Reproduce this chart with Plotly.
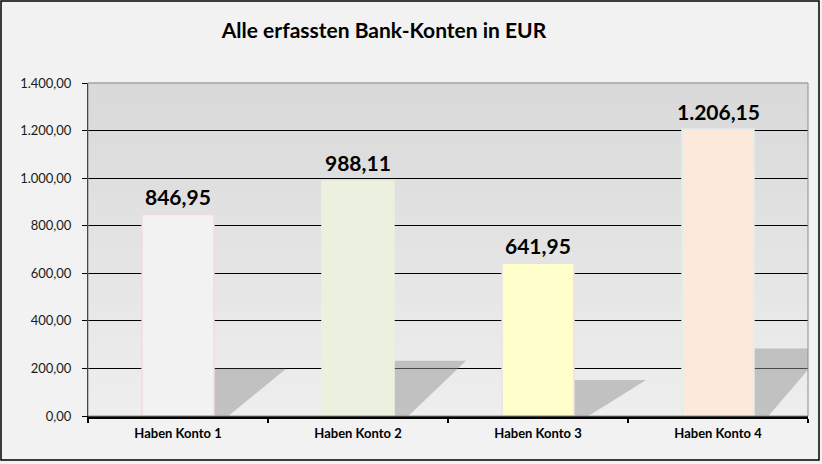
import plotly.graph_objects as go

categories = ["Haben Konto 1", "Haben Konto 2", "Haben Konto 3", "Haben Konto 4"]
values = [846.95, 988.11, 641.95, 1206.15]
bar_fill = ["#f2f2f2", "#ebf1de", "#ffffcc", "#fde9d9"]
bar_line = ["#f2dcdb", "#ebf1de", "#e6e0ec", "#dbeef3"]
y_ticks = [0, 200, 400, 600, 800, 1000, 1200, 1400]
title_text = "Alle erfassten Bank-Konten in EUR"

W, H = 822, 464
ML, MR, MT, MB = 88, 14, 83, 48
FONT = "Lato, 'Open Sans', sans-serif"


def de_fmt(v):
    return f"{v:,.2f}".replace(",", "X").replace(".", ",").replace("X", ".")


fig = go.Figure()
fig.add_trace(go.Bar(
    x=categories, y=values, width=0.4,
    marker=dict(color=bar_fill, line=dict(color=bar_line, width=1.5)),
    hoverinfo="skip",
))

annotations = [dict(x=c, y=v, xref="x", yref="y", text="<b>" + de_fmt(v) + "</b>",
                    showarrow=False, yanchor="middle", yshift=18,
                    font=dict(family=FONT, size=21, color="#000000"))
               for c, v in zip(categories, values)]

shapes = []
# plot-area gradient background
n = 40
top = (217, 217, 217)
bot = (238, 238, 238)
for i in range(n):
    t = i / (n - 1)
    c = tuple(round(bot[k] + (top[k] - bot[k]) * t) for k in range(3))
    shapes.append(dict(type="rect", xref="x domain", yref="y domain",
                       x0=0, x1=1, y0=i / n, y1=(i + 1) / n + 0.002,
                       fillcolor="rgb(%d,%d,%d)" % c, line=dict(width=0), layer="below"))
# bar shadows
for i, v in enumerate(values):
    xr = i + 0.2
    h = v * 0.235
    shapes.append(dict(type="path", xref="x", yref="y",
                       path=f"M {xr},0 L {xr},{h} L {xr+0.4},{h} L {xr+0.08},0 Z",
                       fillcolor="rgba(150,150,150,0.5)", line=dict(width=0), layer="between"))
# plot area border (grey)
shapes.append(dict(type="rect", xref="paper", yref="paper", x0=0, x1=1, y0=0, y1=1,
                   line=dict(color="#8c8c8c", width=1), fillcolor="rgba(0,0,0,0)", layer="above"))
# outer chart border
pw, ph = W - ML - MR, H - MT - MB
shapes.append(dict(type="rect", xref="paper", yref="paper",
                   x0=(1 - ML) / pw, x1=(819 - ML) / pw,
                   y0=-(460 - MT - ph) / ph, y1=1 + (MT - 1) / ph,
                   line=dict(color="#000000", width=1.5), fillcolor="rgba(0,0,0,0)", layer="above"))

fig.update_layout(
    width=W, height=H,
    margin=dict(l=ML, r=MR, t=MT, b=MB),
    paper_bgcolor="#f2f2f2", plot_bgcolor="#e6e6e6",
    separators=",.",
    showlegend=False,
    title=dict(text="<b>" + title_text + "</b>", x=384 / W, xanchor="center",
               y=1 - 31 / H, yanchor="middle", xref="container", yref="container",
               font=dict(family=FONT, size=21, color="#000000")),
    font=dict(family=FONT, color="#000000"),
    shapes=shapes,
    annotations=annotations,
    bargap=0.6,
)
fig.update_xaxes(
    type="category", range=[-0.5, 3.5], autorange=False,
    showline=True, linecolor="#000000", linewidth=2.5,
    ticks="outside", tickson="boundaries", ticklen=4, tickwidth=2, tickcolor="#000000",
    tickfont=dict(family=FONT, size=13, color="#000000"),
    ticklabelstandoff=4,
    tickprefix="<b>", ticksuffix="</b>", showgrid=False,
)
fig.update_yaxes(
    range=[0, 1400], tickvals=y_ticks, tickformat=",.2f",
    showline=True, linecolor="#000000", linewidth=1,
    ticks="outside", ticklen=5, tickcolor="#000000",
    ticklabelstandoff=8,
    showgrid=True, gridcolor="#000000", gridwidth=1, zeroline=False,
    tickfont=dict(family=FONT, size=13, color="#1a1a1a"),
)
fig.write_html("out.html")
